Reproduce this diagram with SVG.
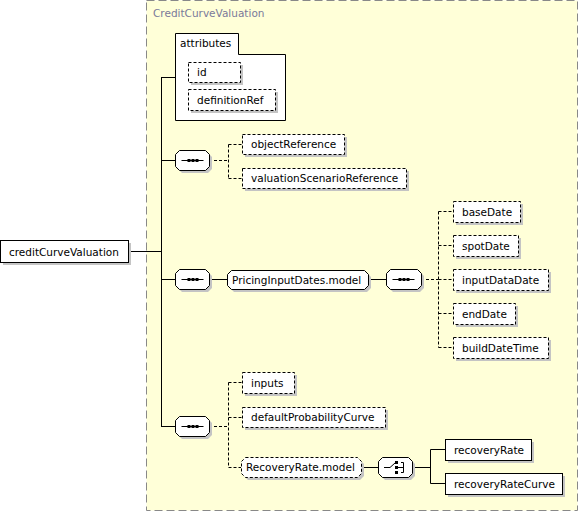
<svg xmlns="http://www.w3.org/2000/svg" width="579" height="512" viewBox="0 0 579 512">
<style>
text{font-family:"DejaVu Sans","Liberation Sans",sans-serif;font-size:10.5px;fill:#000}
.title{fill:#7a7a9a}
.sh{fill:#c4c4c4;stroke:none}
.box{fill:#fff;stroke:#000;stroke-width:1}
.opt{fill:#fff;stroke:#000;stroke-width:1;stroke-dasharray:3,2}
.ln{fill:none;stroke:#000;stroke-width:1}
.dl{fill:none;stroke:#000;stroke-width:1;stroke-dasharray:3,2}
.dot{fill:#000}
</style>
<defs>
<g id="seqicon">
<line x1="6" y1="10" x2="28" y2="10" stroke="#000" stroke-width="1"/>
<rect x="12" y="8.5" width="3" height="3" class="dot"/>
<rect x="16" y="8.5" width="3" height="3" class="dot"/>
<rect x="20" y="8.5" width="3" height="3" class="dot"/>
</g>
</defs>
<rect x="146.5" y="0.5" width="431" height="510" fill="#ffffd8" stroke="#888" stroke-dasharray="8,4"/>
<text class="title" x="153" y="17">CreditCurveValuation</text>

<g id="connectors">
<line class="ln" x1="128" y1="251.5" x2="161.5" y2="251.5"/>
<line class="ln" x1="161.5" y1="77.5" x2="161.5" y2="426.5"/>
<line class="ln" x1="161" y1="77.5" x2="175" y2="77.5"/>
<line class="ln" x1="161" y1="160.5" x2="175" y2="160.5"/>
<line class="ln" x1="161" y1="279.5" x2="175" y2="279.5"/>
<line class="ln" x1="161" y1="426.5" x2="175" y2="426.5"/>
<path class="dl" d="M209 160.5 H228.5 M228.5 144.5 V178.5 M228.5 144.5 H242 M228.5 178.5 H242"/>
<line class="ln" x1="209" y1="279.5" x2="227" y2="279.5"/>
<line class="ln" x1="368" y1="279.5" x2="386" y2="279.5"/>
<path class="dl" d="M421 279.5 H438.5 M438.5 211.5 V347.5 M438.5 211.5 H453 M438.5 245.5 H453 M438.5 279.5 H453 M438.5 313.5 H453 M438.5 347.5 H453"/>
<path class="dl" d="M209 426.5 H228.5 M228.5 382.5 V467.5 M228.5 382.5 H242 M228.5 417.5 H242 M228.5 467.5 H241"/>
<line class="ln" x1="361" y1="467.5" x2="378" y2="467.5"/>
<path class="ln" d="M412 467.5 H430.5 M430.5 449.5 V483.5 M430.5 449.5 H445 M430.5 483.5 H445"/>
</g>

<g id="creditCurveValuation">
<rect class="sh" x="3" y="243" width="128" height="22"/>
<rect class="box" x="0.5" y="240.5" width="128" height="22"/>
<text x="9" y="256">creditCurveValuation</text>
</g>

<g id="attributes">
<path class="box" d="M175.5 33.5 H238.5 V54.5 H285.5 V120.5 H175.5 Z"/>
<text x="180" y="47">attributes</text>
</g>
<g id="id">
<rect class="sh" x="191" y="65" width="52" height="20"/>
<rect class="opt" x="188.5" y="62.5" width="52" height="20"/>
<text x="197" y="76">id</text>
</g>
<g id="definitionRef">
<rect class="sh" x="191" y="92" width="87" height="21"/>
<rect class="opt" x="188.5" y="89.5" width="87" height="21"/>
<text x="197" y="104">definitionRef</text>
</g>

<g id="seq1">
<path class="sh" d="M182 153 H208 L212 157 V169 L208 173 H182 L178 169 V157 Z"/>
<path class="box" d="M179.5 150.5 H205.5 L209.5 154.5 V166.5 L205.5 170.5 H179.5 L175.5 166.5 V154.5 Z"/>
<use href="#seqicon" x="175.5" y="150.5"/>
</g>
<g id="objectReference">
<rect class="sh" x="245" y="137" width="102" height="20"/>
<rect class="opt" x="242.5" y="134.5" width="102" height="20"/>
<text x="251" y="148">objectReference</text>
</g>
<g id="valuationScenarioReference">
<rect class="sh" x="245" y="171" width="164" height="20"/>
<rect class="opt" x="242.5" y="168.5" width="164" height="20"/>
<text x="251" y="182">valuationScenarioReference</text>
</g>

<g id="seq2">
<path class="sh" d="M182 272 H208 L212 276 V288 L208 292 H182 L178 288 V276 Z"/>
<path class="box" d="M179.5 269.5 H205.5 L209.5 273.5 V285.5 L205.5 289.5 H179.5 L175.5 285.5 V273.5 Z"/>
<use href="#seqicon" x="175.5" y="269.5"/>
</g>
<g id="PricingInputDates.model">
<path class="sh" d="M234 273 H367 L371 277 V288 L367 292 H234 L230 288 V277 Z"/>
<path class="box" d="M231.5 270.5 H364.5 L368.5 274.5 V285.5 L364.5 289.5 H231.5 L227.5 285.5 V274.5 Z"/>
<text x="232" y="284">PricingInputDates.model</text>
</g>
<g id="seq3">
<path class="sh" d="M393 272 H420 L424 276 V288 L420 292 H393 L389 288 V276 Z"/>
<path class="box" d="M390.5 269.5 H417.5 L421.5 273.5 V285.5 L417.5 289.5 H390.5 L386.5 285.5 V273.5 Z"/>
<use href="#seqicon" x="386.5" y="269.5"/>
</g>
<g id="baseDate">
<rect class="sh" x="456" y="204" width="67" height="21"/>
<rect class="opt" x="453.5" y="201.5" width="67" height="21"/>
<text x="462" y="216">baseDate</text>
</g>
<g id="spotDate">
<rect class="sh" x="456" y="238" width="65" height="21"/>
<rect class="opt" x="453.5" y="235.5" width="65" height="21"/>
<text x="462" y="250">spotDate</text>
</g>
<g id="inputDataDate">
<rect class="sh" x="456" y="272" width="95" height="21"/>
<rect class="opt" x="453.5" y="269.5" width="95" height="21"/>
<text x="462" y="284">inputDataDate</text>
</g>
<g id="endDate">
<rect class="sh" x="456" y="306" width="62" height="21"/>
<rect class="opt" x="453.5" y="303.5" width="62" height="21"/>
<text x="462" y="318">endDate</text>
</g>
<g id="buildDateTime">
<rect class="sh" x="456" y="340" width="95" height="21"/>
<rect class="opt" x="453.5" y="337.5" width="95" height="21"/>
<text x="462" y="352">buildDateTime</text>
</g>

<g id="seq4">
<path class="sh" d="M182 419 H208 L212 423 V435 L208 439 H182 L178 435 V423 Z"/>
<path class="box" d="M179.5 416.5 H205.5 L209.5 420.5 V432.5 L205.5 436.5 H179.5 L175.5 432.5 V420.5 Z"/>
<use href="#seqicon" x="175.5" y="416.5"/>
</g>
<g id="inputs">
<rect class="sh" x="245" y="375" width="52" height="21"/>
<rect class="opt" x="242.5" y="372.5" width="52" height="21"/>
<text x="251" y="387">inputs</text>
</g>
<g id="defaultProbabilityCurve">
<rect class="sh" x="245" y="410" width="143" height="20"/>
<rect class="opt" x="242.5" y="407.5" width="143" height="20"/>
<text x="251" y="421">defaultProbabilityCurve</text>
</g>
<g id="RecoveryRate.model">
<path class="sh" d="M248 460 H360 L364 464 V476 L360 480 H248 L244 476 V464 Z"/>
<path class="opt" d="M245.5 457.5 H357.5 L361.5 461.5 V473.5 L357.5 477.5 H245.5 L241.5 473.5 V461.5 Z"/>
<text x="246" y="471">RecoveryRate.model</text>
</g>
<g id="choice">
<path class="sh" d="M385 460 H411 L415 464 V476 L411 480 H385 L381 476 V464 Z"/>
<path class="box" d="M382.5 457.5 H408.5 L412.5 461.5 V473.5 L408.5 477.5 H382.5 L378.5 473.5 V461.5 Z"/>
<path class="ln" d="M384 467.5 H390 L395 463 M398 467.5 H404 M401 462.5 H403.5 V472.5 H401"/>
<rect x="395" y="461" width="3" height="3" class="dot"/>
<rect x="395" y="466" width="3" height="3" class="dot"/>
<rect x="395" y="471" width="3" height="3" class="dot"/>
</g>
<g id="recoveryRate">
<rect class="sh" x="448" y="442" width="86" height="21"/>
<rect class="box" x="445.5" y="439.5" width="86" height="21"/>
<text x="454" y="454">recoveryRate</text>
</g>
<g id="recoveryRateCurve">
<rect class="sh" x="448" y="476" width="117" height="21"/>
<rect class="box" x="445.5" y="473.5" width="117" height="21"/>
<text x="454" y="488">recoveryRateCurve</text>
</g>
</svg>
